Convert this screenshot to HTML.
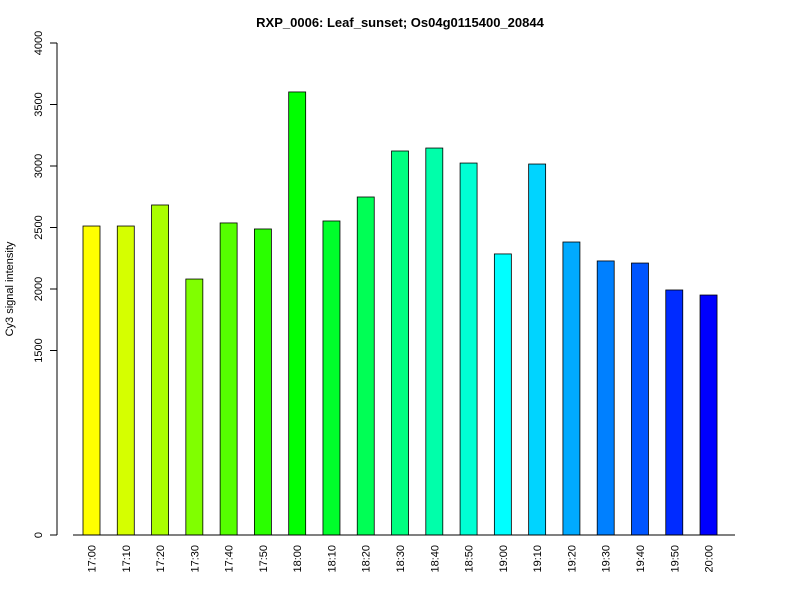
<!DOCTYPE html>
<html><head><meta charset="utf-8"><style>
body{margin:0;background:#fff;}
svg{display:block;font-family:"Liberation Sans",Arial,sans-serif;}
</style></head><body>
<svg id="chart" width="800" height="600">
<text x="400" y="27" text-anchor="middle" font-weight="bold" font-size="13">RXP_0006: Leaf_sunset; Os04g0115400_20844</text>
<text transform="translate(13,289) rotate(-90)" text-anchor="middle" font-size="11">Cy3 signal intensity</text>
<g id="yaxis"></g>
<g id="bars"></g>
<g id="xlabels"></g>
<line x1="73" y1="535" x2="735" y2="535" stroke="#000"/>
</svg>
<script>
const categories=["17:00","17:10","17:20","17:30","17:40","17:50","18:00","18:10","18:20","18:30","18:40","18:50","19:00","19:10","19:20","19:30","19:40","19:50","20:00"];
const values=[2512,2512,2683,2081,2537,2488,3602,2553,2748,3122,3146,3024,2285,3016,2382,2228,2211,1992,1951];
const yTicks=[0,1500,2000,2500,3000,3500,4000];
const NS="http://www.w3.org/2000/svg";
const y=v=>535-v*(492/4000);
const x=i=>83+i*34.28;
const bw=17;
function mk(t,a){const e=document.createElementNS(NS,t);for(const k in a)e.setAttribute(k,a[k]);return e;}
const ya=document.getElementById('yaxis');
const axl=mk('line',{x1:57,y1:y(0),x2:57,y2:y(4000),stroke:'#000'});


ya.appendChild(axl);
yTicks.forEach(t=>{
 const l=mk('line',{x1:50,x2:57,y1:y(t),y2:y(t),stroke:'#000'});
 
 
 ya.appendChild(l);
 const tx=mk('text',{transform:`translate(42,${y(t)}) rotate(-90)`,'text-anchor':'middle','font-size':'11'});
 tx.textContent=t;
 
 
 ya.appendChild(tx);
});
const bg=document.getElementById('bars'),xg=document.getElementById('xlabels');
values.forEach((v,i)=>{
 const hue=60+i*180/(values.length-1);
 const r=mk('rect',{x:x(i),y:y(v),width:bw,height:y(0)-y(v),fill:`hsl(${hue},100%,50%)`,stroke:'#000','stroke-width':0.8});
 
 
 bg.appendChild(r);
 const tx=mk('text',{transform:`translate(${x(i)+bw/2+4},545) rotate(-90)`,'text-anchor':'end','font-size':'11'});
 tx.textContent=categories[i];
 
 
 xg.appendChild(tx);
});
</script>
</body></html>
